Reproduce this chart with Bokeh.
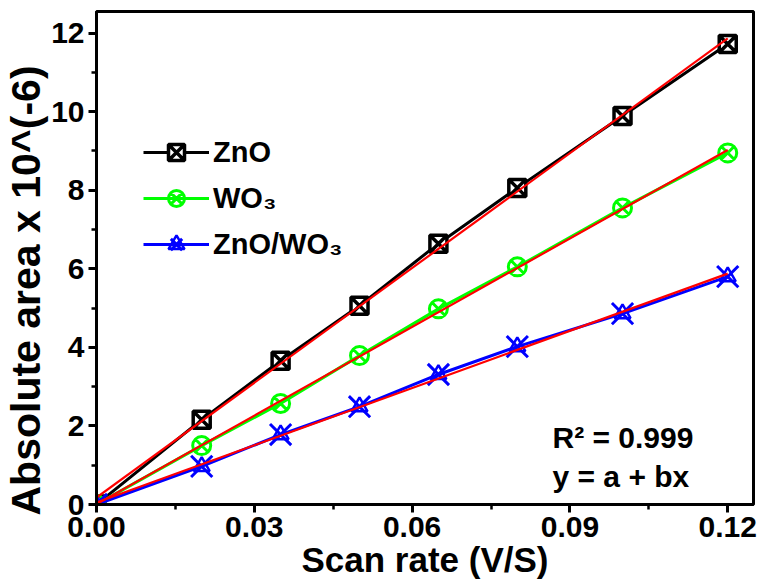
import numpy as np
from bokeh.plotting import figure
from bokeh.models import FixedTicker, Range1d, Legend, LegendItem, Label, NumeralTickFormatter, Title
from bokeh.embed import file_html
from bokeh.resources import INLINE

# ---- data ----
scan_rate = [0.0, 0.02, 0.035, 0.05, 0.065, 0.08, 0.10, 0.12]
zno = [0.0, 2.16, 3.66, 5.06, 6.64, 8.06, 9.89, 11.72]
wo3 = [0.0, 1.50, 2.57, 3.79, 4.98, 6.05, 7.55, 8.95]
zno_wo3 = [0.0, 0.97, 1.78, 2.49, 3.31, 4.02, 4.86, 5.80]
series_names = ["ZnO", "WO\u2083", "ZnO/WO\u2083"]
x_ticks = [0.0, 0.03, 0.06, 0.09, 0.12]
x_minor = [0.015, 0.045, 0.075, 0.105]
y_ticks = [0, 2, 4, 6, 8, 10, 12]
y_minor = [1, 3, 5, 7, 9, 11]
x_title = "Scan rate (V/S)"
y_title = "Absolute area x 10^(-6)"
fit_text = ["R\u00b2 = 0.999", "y = a + bx"]

FONT = "Liberation Sans"

p = figure(width=764, height=588, output_backend="svg", toolbar_location=None,
           x_range=Range1d(0, 0.1249), y_range=Range1d(0, 12.55),
           min_border_left=91, min_border_right=11, min_border_top=11, min_border_bottom=84)
p.background_fill_color = "white"
p.border_fill_color = "white"
p.outline_line_color = "black"
p.outline_line_width = 3
p.grid.visible = False

for ax in (p.xaxis[0], p.yaxis[0]):
    ax.axis_line_width = 3
    ax.major_tick_line_width = 3
    ax.minor_tick_line_width = 2.5
    ax.major_tick_out = 8
    ax.major_tick_in = 0
    ax.minor_tick_out = 5
    ax.minor_tick_in = 0
    ax.major_label_text_font = FONT
    ax.major_label_text_font_style = "bold"
    ax.major_label_text_font_size = "30px"
    ax.major_label_text_color = "black"
    ax.major_label_standoff = 4

p.xaxis.ticker = FixedTicker(ticks=x_ticks, minor_ticks=x_minor)
p.yaxis.ticker = FixedTicker(ticks=y_ticks, minor_ticks=y_minor)
p.xaxis.formatter = NumeralTickFormatter(format="0.00")
p.xaxis.axis_label = x_title
p.xaxis.axis_label_text_font = FONT
p.xaxis.axis_label_text_font_style = "bold"
p.xaxis.axis_label_text_font_size = "35px"
p.xaxis.axis_label_text_color = "black"
p.xaxis.axis_label_standoff = 0

# y title as a side title so that it can sit a little low like the reference
ytitle = Title(text=y_title, align="left", offset=-11, standoff=0,
               text_font=FONT, text_font_style="bold", text_font_size="41px",
               text_color="black")
p.add_layout(ytitle, "left")

colors = ["black", "#00ff00", "#0000ff"]
data = [zno, wo3, zno_wo3]
items = []
xs = np.array(scan_rate)
for i, (ys, col, name) in enumerate(zip(data, colors, series_names)):
    ln = p.line(scan_rate, ys, line_color=col, line_width=3)
    if i == 0:
        mk = [p.scatter(scan_rate, ys, marker="square_x", size=17, line_color=col,
                        fill_color="white", line_width=3.5)]
    elif i == 1:
        mk = [p.scatter(scan_rate, ys, marker="circle_x", size=18, line_color=col,
                        fill_color=None, line_width=3)]
    else:
        mk = [p.scatter(scan_rate, ys, marker="x", size=30, line_color=col, line_width=3),
              p.scatter(scan_rate, ys, marker="triangle", size=16, line_color=col,
                        fill_color=None, line_width=2.5)]
    items.append(LegendItem(label=name, renderers=[ln] + mk))

# linear fits (red) computed from the data
for ys in data:
    b, a = np.polyfit(xs, np.array(ys), 1)
    fx = [0.0, 0.12]
    p.line(fx, [a + b * fx[0], a + b * fx[1]], line_color="red", line_width=2.2)

legend = Legend(items=items, location=(47, 240))
legend.background_fill_alpha = 0
legend.border_line_alpha = 0
legend.padding = 0
legend.margin = 0
legend.spacing = 6
legend.glyph_width = 66
legend.glyph_height = 40
legend.label_height = 40
legend.label_standoff = 4
legend.label_text_font = FONT
legend.label_text_font_style = "bold"
legend.label_text_font_size = "29px"
legend.label_text_color = "black"
p.add_layout(legend, "center")

for txt, yy in zip(fit_text, [67, 28]):
    p.add_layout(Label(x=456, y=yy, x_units="screen", y_units="screen", text=txt,
                       text_font=FONT, text_font_style="bold", text_font_size="30px",
                       text_color="black", text_baseline="alphabetic"))

open("out.html", "w").write(file_html(p, INLINE))
